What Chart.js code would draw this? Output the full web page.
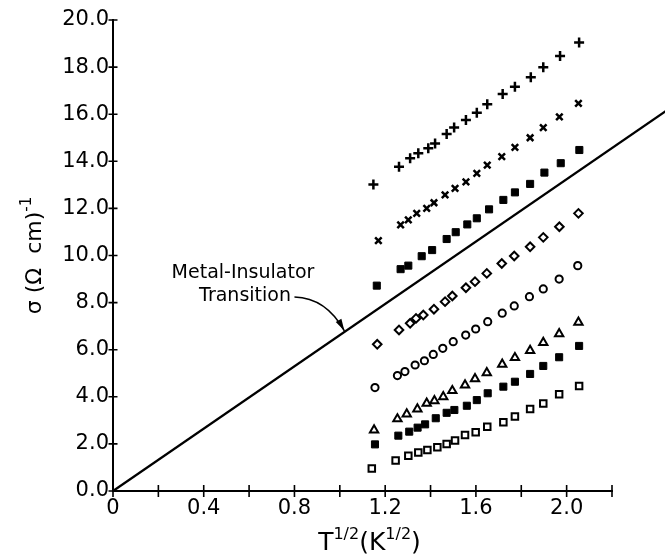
<!DOCTYPE html>
<html>
<head>
<meta charset="utf-8">
<script src="https://cdn.jsdelivr.net/npm/chart.js@4.4.1/dist/chart.umd.min.js"></script>
<style>
  html, body { margin: 0; padding: 0; background: #fff; }
  #wrap { width: 665px; height: 556px; }
</style>
</head>
<body>
<div id="wrap"><canvas id="sigmaChart" width="665" height="556"></canvas></div>
<script>
// values: sigma (ohm cm)^-1 vs T^1/2 (K^1/2)
const plusX = [1.148, 1.261, 1.310, 1.346, 1.390, 1.420, 1.471, 1.504, 1.556, 1.604, 1.650, 1.718, 1.772, 1.842, 1.897, 1.971, 2.055];
const plusY = [13.02, 13.77, 14.13, 14.34, 14.55, 14.76, 15.16, 15.44, 15.75, 16.06, 16.42, 16.86, 17.17, 17.57, 17.99, 18.47, 19.04];

const crossX = [1.170, 1.268, 1.302, 1.339, 1.383, 1.415, 1.464, 1.508, 1.556, 1.604, 1.650, 1.714, 1.772, 1.839, 1.897, 1.968, 2.052];
const crossY = [10.63, 11.30, 11.51, 11.79, 12.00, 12.24, 12.57, 12.85, 13.13, 13.49, 13.84, 14.20, 14.59, 15.00, 15.43, 15.89, 16.46];

const solidUpperX = [1.163, 1.268, 1.302, 1.361, 1.407, 1.471, 1.511, 1.562, 1.604, 1.658, 1.721, 1.772, 1.839, 1.902, 1.974, 2.056];
const solidUpperY = [8.72, 9.42, 9.57, 9.97, 10.23, 10.70, 10.99, 11.32, 11.58, 11.96, 12.36, 12.68, 13.04, 13.52, 13.92, 14.48];

const diamondX = [1.165, 1.261, 1.310, 1.336, 1.368, 1.415, 1.464, 1.496, 1.556, 1.596, 1.648, 1.714, 1.769, 1.839, 1.897, 1.968, 2.052];
const diamondY = [6.23, 6.84, 7.12, 7.33, 7.47, 7.72, 8.04, 8.28, 8.63, 8.89, 9.24, 9.66, 9.98, 10.37, 10.77, 11.22, 11.79];

const circleX = [1.155, 1.254, 1.287, 1.332, 1.373, 1.412, 1.454, 1.500, 1.555, 1.599, 1.652, 1.716, 1.769, 1.836, 1.897, 1.967, 2.049];
const circleY = [4.39, 4.90, 5.07, 5.35, 5.53, 5.80, 6.06, 6.34, 6.62, 6.88, 7.19, 7.55, 7.86, 8.25, 8.58, 9.00, 9.57];

const triangleX = [1.151, 1.254, 1.295, 1.342, 1.383, 1.417, 1.456, 1.496, 1.552, 1.596, 1.648, 1.716, 1.772, 1.839, 1.897, 1.967, 2.052];
const triangleY = [2.59, 3.06, 3.27, 3.48, 3.72, 3.83, 4.00, 4.26, 4.50, 4.76, 5.02, 5.38, 5.66, 5.96, 6.30, 6.67, 7.16];

const solidLowerX = [1.155, 1.258, 1.306, 1.343, 1.376, 1.423, 1.471, 1.505, 1.560, 1.604, 1.652, 1.721, 1.772, 1.839, 1.897, 1.967, 2.055];
const solidLowerY = [1.98, 2.35, 2.52, 2.69, 2.83, 3.09, 3.32, 3.44, 3.62, 3.86, 4.15, 4.43, 4.64, 4.97, 5.31, 5.68, 6.16];

const squareX = [1.141, 1.246, 1.302, 1.346, 1.386, 1.430, 1.471, 1.508, 1.552, 1.599, 1.650, 1.721, 1.772, 1.839, 1.897, 1.967, 2.055];
const squareY = [0.96, 1.29, 1.50, 1.64, 1.74, 1.86, 2.00, 2.14, 2.38, 2.49, 2.73, 2.92, 3.16, 3.48, 3.72, 4.11, 4.46];

// metal-insulator transition line (runs off the right edge)
const transitionX = [0, 2.45];
const transitionY = [0, 16.22];

const xTickValues = [0, 0.2, 0.4, 0.6, 0.8, 1.0, 1.2, 1.4, 1.6, 1.8, 2.0, 2.2];
const xTickLabels = ['0', '', '0.4', '', '0.8', '', '1.2', '', '1.6', '', '2.0', ''];
const yTickValues = [0, 2, 4, 6, 8, 10, 12, 14, 16, 18, 20];
const yTickLabels = ['0.0', '2.0', '4.0', '6.0', '8.0', '10.0', '12.0', '14.0', '16.0', '18.0', '20.0'];

const annotationLines = ['Metal-Insulator', 'Transition'];

const FONT = '"DejaVu Sans", sans-serif';

function toPoints(xs, ys) {
    return xs.map((x, i) => ({ x, y: ys[i] }));
}

function markerSet(points, style, radius, width, filled) {
    return {
        data: points,
        pointStyle: style,
        pointRadius: radius,
        pointHoverRadius: radius,
        pointBorderWidth: width,
        pointBorderColor: '#000',
        pointBackgroundColor: filled ? '#000' : '#fff',
        showLine: false
    };
}

// draws text pieces left to right, some of them raised (superscripts)
function drawPieces(ctx, pieces, cx, baseY) {
    let total = 0;
    pieces.forEach(p => {
        ctx.font = `${p.size}px ${FONT}`;
        p.w = ctx.measureText(p.text).width;
        total += p.w;
    });
    let cur = cx - total / 2;
    pieces.forEach(p => {
        ctx.font = `${p.size}px ${FONT}`;
        ctx.fillText(p.text, cur, baseY - p.raise);
        cur += p.w;
    });
}

const decor = {
    id: 'decor',
    afterDraw(chart) {
        const { ctx, scales: { x, y } } = chart;
        const axisX = x.getPixelForValue(0);
        const axisY = y.getPixelForValue(0);
        ctx.save();
        ctx.strokeStyle = '#000';
        ctx.fillStyle = '#000';
        ctx.lineWidth = 1.6;

        // tick marks crossing the axes
        ctx.beginPath();
        x.ticks.forEach(t => {
            const px = x.getPixelForValue(t.value);
            ctx.moveTo(px, axisY - 6);
            ctx.lineTo(px, axisY + 6);
        });
        y.ticks.forEach(t => {
            const py = y.getPixelForValue(t.value);
            ctx.moveTo(axisX - 4.5, py);
            ctx.lineTo(axisX + 4.5, py);
        });
        ctx.stroke();

        // axis titles
        ctx.textAlign = 'left';
        ctx.textBaseline = 'alphabetic';
        drawPieces(ctx, [
            { text: 'T', size: 25, raise: 0 },
            { text: '1/2', size: 16, raise: 11 },
            { text: '(K', size: 25, raise: 0 },
            { text: '1/2', size: 16, raise: 11 },
            { text: ')', size: 25, raise: 0 }
        ], (x.left + x.right) / 2 + 7, 550);

        ctx.save();
        ctx.translate(41, (y.top + y.bottom) / 2);
        ctx.rotate(-Math.PI / 2);
        drawPieces(ctx, [
            { text: 'σ (Ω  cm)', size: 22, raise: 0 },
            { text: '-1', size: 15, raise: 10 }
        ], 0, 0);
        ctx.restore();

        // annotation with arrow onto the line
        ctx.font = `19px ${FONT}`;
        ctx.textAlign = 'center';
        ctx.textBaseline = 'middle';
        ctx.fillText(annotationLines[0], x.getPixelForValue(0.573), y.getPixelForValue(9.26));
        ctx.fillText(annotationLines[1], x.getPixelForValue(0.582), y.getPixelForValue(8.28));

        const sx = x.getPixelForValue(0.80), sy = y.getPixelForValue(8.24);
        const cx = x.getPixelForValue(0.94), cy = y.getPixelForValue(8.20);
        const ex = x.getPixelForValue(1.02), ey = y.getPixelForValue(6.80);
        ctx.lineWidth = 1.6;
        ctx.beginPath();
        ctx.moveTo(sx, sy);
        ctx.quadraticCurveTo(cx, cy, ex, ey);
        ctx.stroke();
        const ang = Math.atan2(ey - cy, ex - cx);
        const len = 12, half = 3.2;
        ctx.beginPath();
        ctx.moveTo(ex, ey);
        ctx.lineTo(ex - len * Math.cos(ang) + half * Math.sin(ang), ey - len * Math.sin(ang) - half * Math.cos(ang));
        ctx.lineTo(ex - len * Math.cos(ang) - half * Math.sin(ang), ey - len * Math.sin(ang) + half * Math.cos(ang));
        ctx.closePath();
        ctx.fill();

        ctx.restore();
    }
};

const ctx = document.getElementById('sigmaChart').getContext('2d');

new Chart(ctx, {
    type: 'scatter',
    data: {
        datasets: [
            {
                data: toPoints(transitionX, transitionY),
                showLine: true,
                borderColor: '#000',
                borderWidth: 2.2,
                pointRadius: 0,
                clip: false
            },
            markerSet(toPoints(plusX, plusY), 'cross', 5, 2.5, false),
            markerSet(toPoints(crossX, crossY), 'crossRot', 4.6, 2.5, false),
            markerSet(toPoints(solidUpperX, solidUpperY), 'rect', 5, 1, true),
            markerSet(toPoints(diamondX, diamondY), 'rectRot', 4.3, 2, false),
            markerSet(toPoints(circleX, circleY), 'circle', 3.6, 2, false),
            markerSet(toPoints(triangleX, triangleY), 'triangle', 4.8, 2, false),
            markerSet(toPoints(solidLowerX, solidLowerY), 'rect', 5, 1, true),
            markerSet(toPoints(squareX, squareY), 'rect', 4.6, 2, false)
        ]
    },
    options: {
        responsive: false,
        animation: false,
        devicePixelRatio: 1,
        layout: { padding: { top: 20, right: 53, left: 0, bottom: 0 } },
        plugins: {
            legend: { display: false },
            tooltip: { enabled: false }
        },
        scales: {
            x: {
                type: 'linear',
                min: 0,
                max: 2.2,
                afterBuildTicks: s => { s.ticks = xTickValues.map(v => ({ value: v })); },
                afterFit: s => { s.height = 65; },
                grid: { display: false, drawTicks: false, tickLength: 0 },
                border: { display: true, color: '#000', width: 2 },
                ticks: {
                    color: '#000',
                    padding: 5,
                    maxRotation: 0,
                    autoSkip: false,
                    font: { family: FONT, size: 21 },
                    callback: (v, i) => xTickLabels[i]
                }
            },
            y: {
                type: 'linear',
                min: 0,
                max: 20,
                afterBuildTicks: s => { s.ticks = yTickValues.map(v => ({ value: v })); },
                afterFit: s => { s.width = 113; },
                grid: { display: false, drawTicks: false, tickLength: 0 },
                border: { display: true, color: '#000', width: 2 },
                ticks: {
                    color: '#000',
                    padding: 4,
                    autoSkip: false,
                    font: { family: FONT, size: 21 },
                    callback: (v, i) => yTickLabels[i]
                }
            }
        }
    },
    plugins: [decor]
});
</script>
</body>
</html>
